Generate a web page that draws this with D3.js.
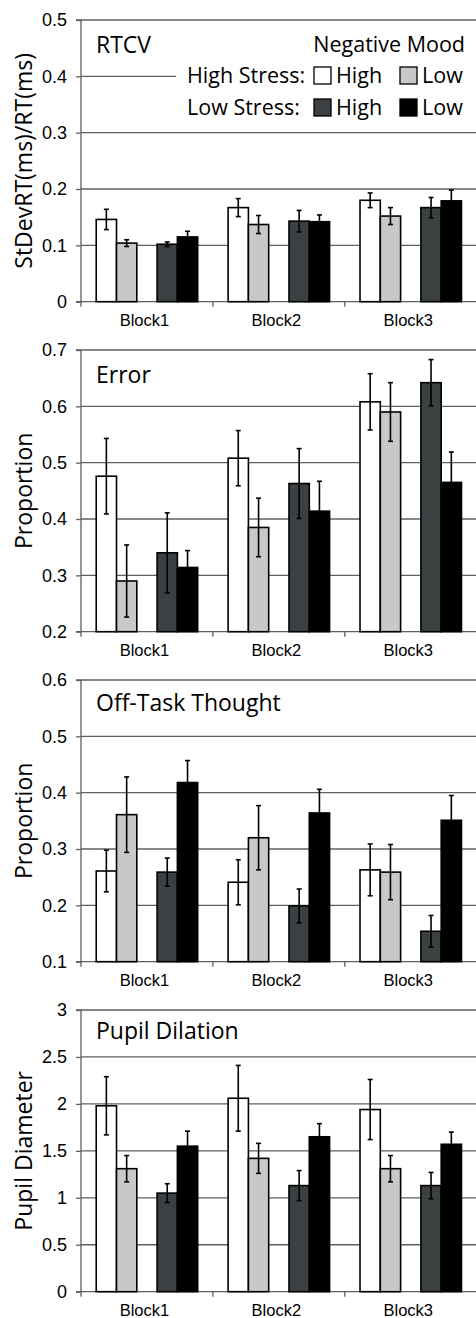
<!DOCTYPE html>
<html><head><meta charset="utf-8">
<script src="https://cdn.jsdelivr.net/npm/d3@7"></script>
<style>
html,body{margin:0;padding:0;background:#fff;}
svg{display:block;}
</style></head>
<body>
<svg id="chart" width="476" height="1318"></svg>
<script>
// ---- data ----
const blocks = ["Block1", "Block2", "Block3"];
const groups = ["HS_High", "HS_Low", "LS_High", "LS_Low"];
const slots = ["HS_High", "HS_Low", "spacer", "LS_High", "LS_Low"];
const groupColors = ["#ffffff", "#c8c9c6", "#3b4142", "#000000"];

const rtcvMean = [[0.146, 0.104, 0.102, 0.115], [0.167, 0.137, 0.143, 0.142], [0.180, 0.152, 0.167, 0.179]];
const rtcvErr  = [[0.018, 0.006, 0.004, 0.010], [0.016, 0.016, 0.019, 0.012], [0.013, 0.015, 0.018, 0.019]];
const rtcvTicks = [0, 0.1, 0.2, 0.3, 0.4, 0.5];

const errorMean = [[0.476, 0.290, 0.340, 0.314], [0.508, 0.385, 0.463, 0.414], [0.608, 0.590, 0.642, 0.465]];
const errorErr  = [[0.067, 0.064, 0.071, 0.030], [0.049, 0.052, 0.062, 0.053], [0.050, 0.052, 0.041, 0.054]];
const errorTicks = [0.2, 0.3, 0.4, 0.5, 0.6, 0.7];

const offTaskMean = [[0.261, 0.361, 0.259, 0.418], [0.241, 0.320, 0.199, 0.364], [0.263, 0.259, 0.154, 0.351]];
const offTaskErr  = [[0.037, 0.067, 0.025, 0.039], [0.040, 0.057, 0.030, 0.042], [0.046, 0.049, 0.028, 0.044]];
const offTaskTicks = [0.1, 0.2, 0.3, 0.4, 0.5, 0.6];

const pupilMean = [[1.98, 1.31, 1.05, 1.55], [2.06, 1.42, 1.13, 1.65], [1.94, 1.31, 1.13, 1.57]];
const pupilErr  = [[0.31, 0.14, 0.10, 0.16], [0.35, 0.16, 0.16, 0.14], [0.32, 0.14, 0.14, 0.13]];
const pupilTicks = [0, 0.5, 1, 1.5, 2, 2.5, 3];
const pupilTickLabels = ["0", "0.5", "1", "1.5", "2", "2.5", "3"];

const panels = [
  {title: "RTCV", ylabel: "StDevRT(ms)/RT(ms)", mean: rtcvMean, err: rtcvErr, ticks: rtcvTicks, labels: rtcvTicks.map(String), titleBase: 53},
  {title: "Error", ylabel: "Proportion", mean: errorMean, err: errorErr, ticks: errorTicks, labels: errorTicks.map(String), titleBase: 53},
  {title: "Off-Task Thought", ylabel: "Proportion", mean: offTaskMean, err: offTaskErr, ticks: offTaskTicks, labels: offTaskTicks.map(String), titleBase: 51},
  {title: "Pupil Dilation", ylabel: "Pupil Diameter", mean: pupilMean, err: pupilErr, ticks: pupilTicks, labels: pupilTickLabels, titleBase: 48.5}
];

const legendRows = [
  {label: "High Stress:", items: [["High", 0], ["Low", 1]]},
  {label: "Low Stress:", items: [["High", 2], ["Low", 3]]}
];

// ---- layout ----
const panelH = 330, plotTop = 20, plotBottom = 301.7, left = 81, right = 476.7;
const gridColor = "#5d6061";
const humanist = "'Open Sans', 'Noto Sans', sans-serif";
const arial = "'Liberation Sans', Arial, sans-serif";

const svg = d3.select("#chart");
const x0 = d3.scaleBand().domain(blocks).range([left, right]).paddingInner(0).paddingOuter(0);
const x1 = d3.scaleBand().domain(slots).range([0, x0.bandwidth()]).paddingInner(0).paddingOuter(0.75);

panels.forEach((p, pi) => {
  const g = svg.append("g").attr("transform", `translate(0,${pi * panelH})`);
  const ext = d3.extent(p.ticks);
  const y = d3.scaleLinear().domain(ext).range([plotBottom, plotTop]);

  // gridlines
  g.append("g").selectAll("line").data(p.ticks.slice(1)).join("line")
    .attr("x1", left).attr("x2", 476).attr("y1", d => y(d)).attr("y2", d => y(d))
    .attr("stroke", gridColor).attr("stroke-width", 1.3);

  // y axis
  const yAxis = d3.axisLeft(y).tickValues(p.ticks).tickSize(5).tickPadding(9)
    .tickFormat((d, i) => p.labels[i]);
  const ya = g.append("g").attr("transform", `translate(${left},0)`).call(yAxis);
  ya.select(".domain").attr("stroke", gridColor).attr("stroke-width", 1.3).attr("d", `M-5,${plotTop}H0V${plotBottom}H-5`);
  ya.selectAll(".tick line").attr("stroke", gridColor).attr("stroke-width", 1.3);
  ya.selectAll(".tick text").attr("font-family", arial).attr("font-size", 18).attr("fill", "#000");

  // x axis
  const xa = g.append("g").attr("transform", `translate(0,${plotBottom})`);
  xa.append("line").attr("x1", left).attr("x2", 476).attr("y1", 0).attr("y2", 0)
    .attr("stroke", gridColor).attr("stroke-width", 1.3);
  const boundaries = blocks.map(b => x0(b)).concat([x0(blocks[blocks.length - 1]) + x0.bandwidth()]);
  xa.selectAll("line.tk").data(boundaries).join("line").attr("class", "tk")
    .attr("x1", d => d).attr("x2", d => d).attr("y1", 0).attr("y2", 5)
    .attr("stroke", gridColor).attr("stroke-width", 1.3);
  xa.selectAll("text").data(blocks).join("text")
    .attr("x", d => x0(d) + x0.bandwidth() / 2 - 2.5).attr("y", 24.5)
    .attr("text-anchor", "middle").attr("font-family", arial).attr("font-size", 16.5).attr("fill", "#000")
    .text(d => d);

  // legend background (panel 1)
  if (pi === 0) {
    g.append("rect").attr("x", 176).attr("y", 30).attr("width", 300).attr("height", 92).attr("fill", "#fff");
  }

  // bars
  const data = [];
  blocks.forEach((b, bi) => groups.forEach((gr, gi) => data.push({block: b, group: gr, gi, v: p.mean[bi][gi], e: p.err[bi][gi]})));
  const bars = g.append("g").selectAll("g").data(data).join("g")
    .attr("transform", d => `translate(${x0(d.block) + x1(d.group)},0)`);
  bars.append("rect")
    .attr("x", 0).attr("width", x1.bandwidth())
    .attr("y", d => y(d.v)).attr("height", d => plotBottom - y(d.v))
    .attr("fill", d => groupColors[d.gi]).attr("stroke", "#000").attr("stroke-width", 1.6);
  const cx = x1.bandwidth() / 2;
  bars.append("line").attr("x1", cx).attr("x2", cx)
    .attr("y1", d => y(d.v + d.e)).attr("y2", d => y(d.v - d.e))
    .attr("stroke", "#000").attr("stroke-width", 1.6);
  bars.append("line").attr("x1", cx - 2.5).attr("x2", cx + 2.5)
    .attr("y1", d => y(d.v + d.e)).attr("y2", d => y(d.v + d.e))
    .attr("stroke", "#000").attr("stroke-width", 1.6);
  bars.append("line").attr("x1", cx - 2.5).attr("x2", cx + 2.5)
    .attr("y1", d => y(d.v - d.e)).attr("y2", d => y(d.v - d.e))
    .attr("stroke", "#000").attr("stroke-width", 1.6);

  // title
  g.append("text").attr("x", 96).attr("y", p.titleBase)
    .attr("font-family", humanist).attr("font-size", 23).attr("fill", "#000").text(p.title);

  // y label
  g.append("text").attr("transform", `translate(32,${(plotTop + plotBottom) / 2}) rotate(-90)`)
    .attr("text-anchor", "middle").attr("font-family", humanist).attr("font-size", 23).attr("fill", "#000")
    .text(p.ylabel);

  // legend
  if (pi === 0) {
    const lg = g.append("g");
    lg.append("text").attr("x", 465).attr("y", 52).attr("text-anchor", "end")
      .attr("font-family", humanist).attr("font-size", 21.5).attr("fill", "#000").text("Negative Mood");
    legendRows.forEach((r, ri) => {
      const base = 83 + ri * 32;
      lg.append("text").attr("x", 187).attr("y", base)
        .attr("font-family", humanist).attr("font-size", 21.5).attr("fill", "#000").text(r.label);
      r.items.forEach(([lab, ci], k) => {
        const bx = 314 + k * 86;
        lg.append("rect").attr("x", bx).attr("y", base - 16).attr("width", 17).attr("height", 17)
          .attr("fill", groupColors[ci]).attr("stroke", "#000").attr("stroke-width", 1.3);
        lg.append("text").attr("x", bx + 22).attr("y", base)
          .attr("font-family", humanist).attr("font-size", 21.5).attr("fill", "#000").text(lab);
      });
    });
  }
});
</script>
</body></html>
